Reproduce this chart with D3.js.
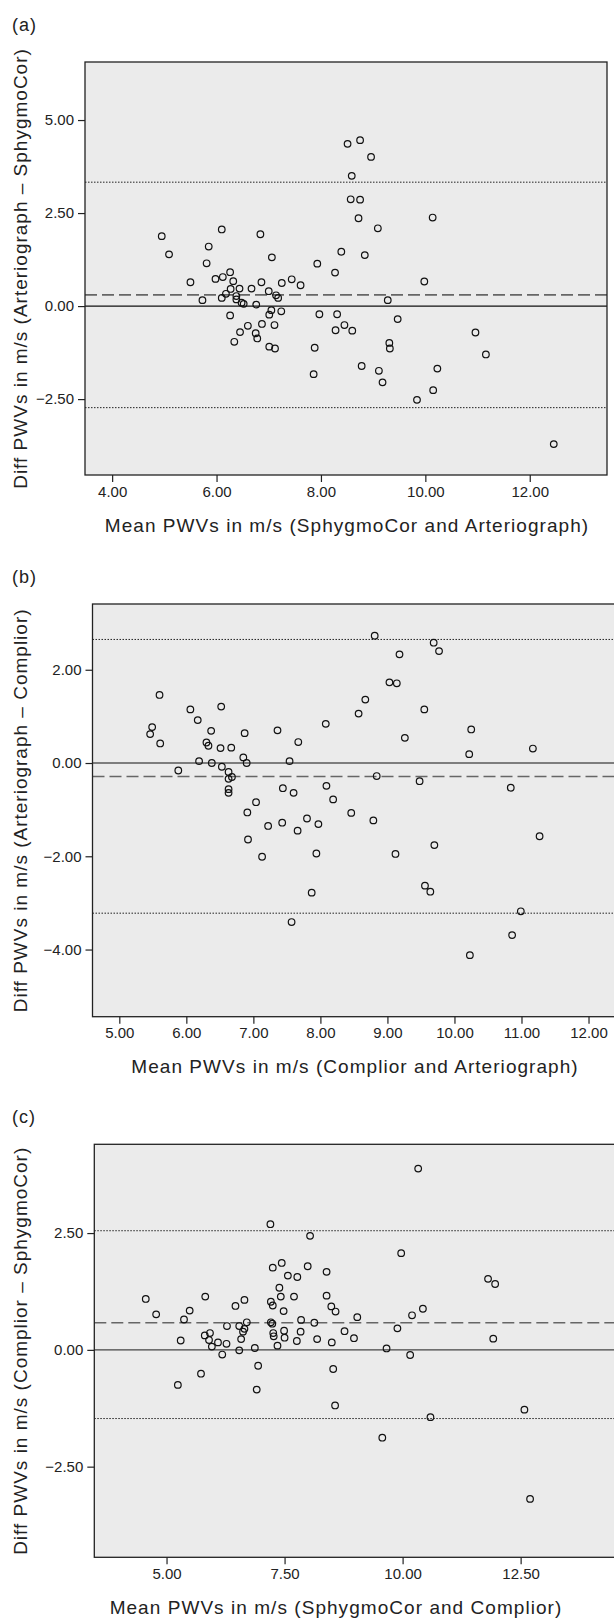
<!DOCTYPE html>
<html><head><meta charset="utf-8">
<script src="https://cdn.jsdelivr.net/npm/d3@7"></script>
<style>
html,body{margin:0;padding:0;background:#fff;}
svg{display:block;font-family:"Liberation Sans",Arial,sans-serif;}
</style></head>
<body>
<svg id="chart" width="614" height="1618"></svg>
<script>
// ---------- Data ----------
// Panel (a): SphygmoCor vs Arteriograph
const aMean = [4.95,5.09,6.10,6.84,5.85,5.81,7.06,5.50,5.98,6.12,6.26,6.32,5.73,6.10,6.18,6.27,6.44,6.38,6.38,6.48,6.52,6.67,6.86,6.76,7.00,7.14,7.18,7.25,7.44,7.61,7.05,7.01,7.24,6.26,6.87,6.60,6.45,6.75,6.78,7.11,6.34,7.01,7.12,7.93,8.27,8.39,7.97,8.31,8.28,8.45,7.88,7.86,8.51,8.75,8.96,8.59,8.57,8.75,8.72,9.09,10.14,8.84,9.98,9.28,9.47,8.60,9.31,9.32,10.96,11.16,8.78,9.11,9.18,10.23,10.15,9.84,12.46];
const aDiff = [1.88,1.39,2.06,1.93,1.60,1.15,1.31,0.64,0.73,0.78,0.91,0.67,0.16,0.22,0.33,0.46,0.47,0.27,0.18,0.09,0.06,0.47,0.64,0.04,0.40,0.29,0.22,0.62,0.72,0.56,-0.11,-0.23,-0.14,-0.25,-0.48,-0.53,-0.70,-0.73,-0.87,-0.51,-0.96,-1.09,-1.14,1.14,0.90,1.46,-0.22,-0.22,-0.65,-0.51,-1.12,-1.83,4.36,4.46,4.01,3.50,2.87,2.86,2.36,2.09,2.38,1.37,0.66,0.16,-0.35,-0.66,-0.99,-1.14,-0.71,-1.30,-1.61,-1.74,-2.05,-1.68,-2.26,-2.52,-3.71];
const aLines = [0.30, 3.33, -2.73]; // mean, upper LoA, lower LoA
const aXTicks = [4, 6, 8, 10, 12];
const aYTicks = [-2.5, 0, 2.5, 5];

// Panel (b): Complior vs Arteriograph
const bMean = [5.60,5.49,5.46,5.61,6.06,6.17,6.52,6.37,6.30,6.33,6.51,6.67,6.87,6.19,6.38,5.88,6.53,6.63,6.63,6.68,6.63,6.63,6.85,6.90,7.36,7.67,8.08,7.54,7.04,6.91,7.44,7.60,8.09,8.19,7.22,7.43,7.66,7.80,7.97,6.92,7.13,7.94,7.87,7.57,8.81,9.69,9.77,9.18,9.03,9.14,8.67,8.57,9.55,10.25,9.26,10.22,11.17,8.84,9.48,10.84,8.46,8.79,11.27,9.70,9.12,9.56,9.64,10.99,10.86,10.23];
const bDiff = [1.46,0.77,0.62,0.42,1.15,0.92,1.21,0.69,0.44,0.37,0.32,0.33,0.64,0.04,0.00,-0.16,-0.08,-0.19,-0.34,-0.30,-0.56,-0.64,0.12,0.00,0.70,0.45,0.84,0.04,-0.84,-1.06,-0.54,-0.64,-0.49,-0.78,-1.35,-1.28,-1.45,-1.19,-1.31,-1.64,-2.01,-1.94,-2.78,-3.41,2.73,2.58,2.40,2.33,1.73,1.71,1.36,1.06,1.15,0.72,0.54,0.19,0.31,-0.28,-0.39,-0.53,-1.07,-1.23,-1.57,-1.76,-1.95,-2.63,-2.76,-3.18,-3.69,-4.12];
const bLines = [-0.29, 2.65, -3.22];
const bXTicks = [5, 6, 7, 8, 9, 10, 11, 12];
const bYTicks = [-4, -2, 0, 2];

// Panel (c): SphygmoCor vs Complior
const cMean = [4.56,4.78,5.49,5.37,5.30,5.24,5.73,5.82,5.81,5.92,5.90,5.96,6.09,6.18,6.28,6.27,6.46,6.65,6.54,6.70,6.65,6.62,6.58,6.54,6.87,6.94,6.91,7.20,7.25,7.44,7.21,7.25,7.39,7.42,7.48,7.21,7.24,7.26,7.27,7.35,7.49,7.50,7.57,7.70,7.77,7.85,7.84,7.76,7.99,8.04,8.13,8.19,8.39,8.39,8.49,8.58,8.50,8.53,8.57,8.77,8.97,9.04,9.66,9.89,10.16,10.20,10.43,9.97,10.33,11.81,11.96,11.92,10.59,9.57,12.58,12.70];
const cDiff = [1.09,0.76,0.84,0.65,0.20,-0.75,-0.51,1.14,0.31,0.36,0.21,0.07,0.16,-0.10,0.51,0.13,0.94,1.07,0.51,0.59,0.45,0.39,0.23,-0.01,0.04,-0.34,-0.85,2.69,1.76,1.86,1.03,0.95,1.33,1.14,0.83,0.59,0.56,0.36,0.29,0.09,0.41,0.26,1.59,1.14,1.56,0.64,0.39,0.19,1.79,2.44,0.58,0.23,1.67,1.16,0.93,0.82,0.16,-0.41,-1.19,0.40,0.25,0.70,0.03,0.46,-0.11,0.74,0.88,2.07,3.88,1.52,1.41,0.24,-1.44,-1.88,-1.28,-3.19];
const cLines = [0.58, 2.55, -1.47];
const cXTicks = [5, 7.5, 10, 12.5];
const cYTicks = [-2.5, 0, 2.5];

const panelLabels = ["(a)", "(b)", "(c)"];
const xTitles = ["Mean PWVs in m/s (SphygmoCor and Arteriograph)",
                 "Mean PWVs in m/s (Complior and Arteriograph)",
                 "Mean PWVs in m/s (SphygmoCor and Complior)"];
const yTitles = ["Diff PWVs in m/s (Arteriograph \u2013 SphygmoCor)",
                 "Diff PWVs in m/s (Arteriograph \u2013 Complior)",
                 "Diff PWVs in m/s (Complior \u2013 SphygmoCor)"];

// ---------- Drawing ----------
const svg = d3.select("#chart");
const fmt = d3.format(".2f");

const panels = [
  {mean:aMean, diff:aDiff, lines:aLines, xt:aXTicks, yt:aYTicks,
   left:85, right:607, top:62, bottom:475, xd:[3.48,13.48], yd:[-4.54,6.56],
   labelY:31, titleX:347},
  {mean:bMean, diff:bDiff, lines:bLines, xt:bXTicks, yt:bYTicks,
   left:92.5, right:616, top:604, bottom:1016.7, xd:[4.60,12.41], yd:[-5.44,3.41],
   labelY:583, titleX:355},
  {mean:cMean, diff:cDiff, lines:cLines, xt:cXTicks, yt:cYTicks,
   left:94.3, right:616, top:1144.3, bottom:1557.3, xd:[3.47,14.52], yd:[-4.44,4.40],
   labelY:1123, titleX:336}
];

panels.forEach((p, i) => {
  const g = svg.append("g");
  const x = d3.scaleLinear().domain(p.xd).range([p.left, p.right]);
  const y = d3.scaleLinear().domain(p.yd).range([p.bottom, p.top]);

  // plot background
  g.append("rect")
    .attr("x", p.left).attr("y", p.top)
    .attr("width", p.right - p.left).attr("height", p.bottom - p.top)
    .attr("fill", "#ebebeb").attr("stroke", "none");

  // reference lines
  g.append("line").attr("x1", p.left).attr("x2", p.right)
    .attr("y1", y(0)).attr("y2", y(0))
    .attr("stroke", i === 2 ? "#444" : "#111").attr("stroke-width", 1.2);
  g.append("line").attr("x1", p.left).attr("x2", p.right)
    .attr("y1", y(p.lines[0])).attr("y2", y(p.lines[0]))
    .attr("stroke", "#666").attr("stroke-width", 1.6)
    .attr("stroke-dasharray", "12,5");
  [p.lines[1], p.lines[2]].forEach(v => {
    g.append("line").attr("x1", p.left).attr("x2", p.right)
      .attr("y1", y(v)).attr("y2", y(v))
      .attr("stroke", "#222").attr("stroke-width", 1)
      .attr("stroke-dasharray", "1.5,1.5");
  });

  // points
  g.append("g").selectAll("circle")
    .data(p.mean.map((m, k) => [m, p.diff[k]]))
    .join("circle")
    .attr("cx", d => x(d[0])).attr("cy", d => y(d[1]))
    .attr("r", 3.3).attr("fill", "none")
    .attr("stroke", "#111").attr("stroke-width", 1.2);

  // frame
  g.append("rect")
    .attr("x", p.left).attr("y", p.top)
    .attr("width", p.right - p.left).attr("height", p.bottom - p.top)
    .attr("fill", "none").attr("stroke", "#222").attr("stroke-width", 1.3);

  // axes
  const xAxis = d3.axisBottom(x).tickValues(p.xt).tickFormat(fmt)
    .tickSizeInner(7).tickSizeOuter(0).tickPadding(4);
  const gx = g.append("g").attr("transform", `translate(0,${p.bottom})`).call(xAxis);
  gx.select(".domain").remove();
  gx.selectAll("line").attr("stroke", "#222").attr("stroke-width", 1.2);
  gx.selectAll("text").attr("font-size", 15).attr("fill", "#222")
    .attr("font-family", '"Liberation Sans", Arial, sans-serif');

  const yAxis = d3.axisLeft(y).tickValues(p.yt).tickFormat(fmt)
    .tickSizeInner(7).tickSizeOuter(0).tickPadding(4);
  const gy = g.append("g").attr("transform", `translate(${p.left},0)`).call(yAxis);
  gy.select(".domain").remove();
  gy.selectAll("line").attr("stroke", "#222").attr("stroke-width", 1.2);
  gy.selectAll("text").attr("font-size", 15).attr("fill", "#222")
    .attr("font-family", '"Liberation Sans", Arial, sans-serif');

  // panel label
  g.append("text").attr("x", 12).attr("y", p.labelY)
    .attr("font-size", 18).attr("letter-spacing", 1).attr("fill", "#222")
    .text(panelLabels[i]);

  // x title
  g.append("text")
    .attr("x", p.titleX)
    .attr("y", p.bottom + 56.7)
    .attr("text-anchor", "middle")
    .attr("font-size", 19).attr("letter-spacing", 1.05).attr("fill", "#222")
    .text(xTitles[i]);

  // y title
  g.append("text")
    .attr("transform", `translate(27,${(p.top + p.bottom) / 2}) rotate(-90)`)
    .attr("text-anchor", "middle")
    .attr("font-size", 19).attr("letter-spacing", 1).attr("fill", "#222")
    .text(yTitles[i]);
});
</script>
</body></html>
